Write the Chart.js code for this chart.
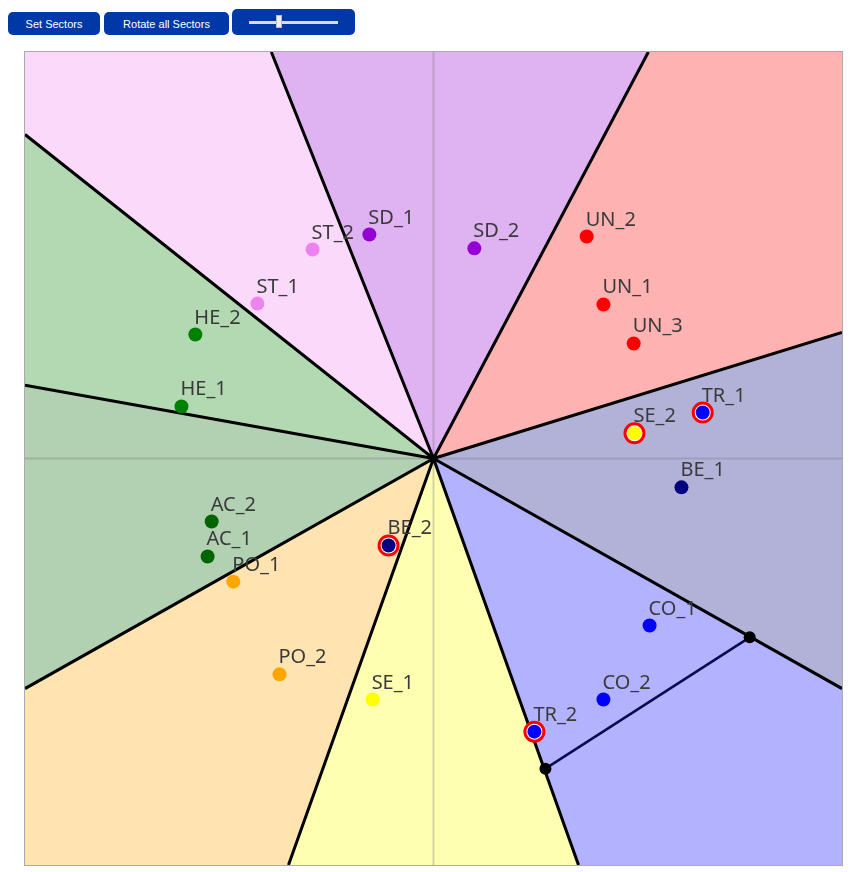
<!DOCTYPE html>
<html lang="en">
<head>
  <meta charset="UTF-8">
  <title>Sectors</title>
  <script src="https://cdn.jsdelivr.net/npm/chart.js"></script>
  <style>
    body {
      margin: 0;
      background: #fff;
      font-family: 'Liberation Sans', Arial, sans-serif;
    }
    .btn {
      position: absolute;
      background: #0038a8;
      color: #fff;
      border-radius: 5px;
      font-size: 11px;
      display: flex;
      align-items: center;
      justify-content: center;
    }
    .track {
      position: absolute;
      left: 17px; right: 17px; top: 12px;
      height: 3px;
      background: #ddd;
    }
    .thumb {
      position: absolute;
      left: 44px; top: 6px;
      width: 6px; height: 13px;
      background: #eee;
      border: 1px solid #bbb;
      box-sizing: border-box;
    }
    #plot {
      position: absolute;
      left: 24px;
      top: 51px;
      width: 817px;
      height: 813px;
      border: 1px solid #aaa;
    }
  </style>
</head>
<body>

  <div class="btn" style="left:8px; top:12px; width:92px; height:23px;">Set Sectors</div>
  <div class="btn" style="left:104px; top:12px; width:125px; height:23px;">Rotate all Sectors</div>
  <div class="btn" style="left:232px; top:9px; width:123px; height:26px;">
    <div class="track"></div>
    <div class="thumb"></div>
  </div>

  <div id="plot">
    <canvas id="sectorChart" width="817" height="813"></canvas>
  </div>

  <script>
    // Points
    const pointNames = ['SD_1', 'SD_2', 'ST_2', 'ST_1', 'HE_2', 'HE_1', 'UN_2', 'UN_1', 'UN_3', 'TR_1', 'SE_2',
                        'BE_1', 'CO_1', 'CO_2', 'TR_2', 'AC_2', 'AC_1', 'PO_1', 'BE_2', 'PO_2', 'SE_1'];
    const pointX = [-0.157, 0.100, -0.296, -0.431, -0.583, -0.617, 0.375, 0.416, 0.490, 0.659, 0.492,
                    0.607, 0.529, 0.416, 0.247, -0.543, -0.553, -0.490, -0.110, -0.377, -0.149];
    const pointY = [0.551, 0.517, 0.514, 0.381, 0.305, 0.128, 0.546, 0.379, 0.283, 0.113, 0.062,
                    -0.071, -0.411, -0.593, -0.672, -0.155, -0.241, -0.303, -0.214, -0.531, -0.593];
    const selected = ['TR_1', 'SE_2', 'BE_2', 'TR_2'];

    // Sectors, clockwise from the top; boundary i is the line from the centre to (boundX[i], boundY[i])
    const sectorNames = ['SD', 'UN', 'BE', 'CO', 'SE', 'PO', 'AC', 'HE', 'ST'];
    const boundX = [-0.397, 0.526, 1, 1, 0.355, -0.355, -1, -1, -1];
    const boundY = [1, 1, 0.31, -0.566, -1, -1, -0.566, 0.18, 0.797];

    // Handle line
    const handleX = [0.774, 0.274];
    const handleY = [-0.440, -0.763];

    const groupColor = {
      SD: '148,0,211', UN: '255,0,0', BE: '0,0,128', CO: '0,0,255', TR: '0,0,255',
      SE: '255,255,0', PO: '255,165,0', AC: '0,100,0', HE: '0,128,0', ST: '238,130,238'
    };

    // position along the square's border, clockwise from the top-left corner
    const perim = (x, y) => {
      if (y === 1) return x + 1;
      if (x === 1) return 2 + (1 - y);
      if (y === -1) return 4 + (1 - x);
      return 6 + (y + 1);
    };
    const corners = [[-1, 1, 0], [1, 1, 2], [1, -1, 4], [-1, -1, 6]];

    const datasets = [];

    sectorNames.forEach((name, i) => {
      const j = (i + 1) % sectorNames.length;
      let t0 = perim(boundX[i], boundY[i]);
      let t1 = perim(boundX[j], boundY[j]);
      if (t1 <= t0) t1 += 8;
      const pts = [{x: 0, y: 0}, {x: boundX[i], y: boundY[i]}];
      [0, 8].forEach(off => corners.forEach(c => {
        const t = c[2] + off;
        if (t > t0 && t < t1) pts.push({x: c[0], y: c[1]});
      }));
      pts.push({x: boundX[j], y: boundY[j]}, {x: 0, y: 0});
      datasets.push({
        data: pts, showLine: true, fill: 'shape', borderWidth: 0, pointRadius: 0,
        borderColor: 'rgba(0,0,0,0)', backgroundColor: 'rgba(' + groupColor[name] + ',0.3)', order: 50
      });
    });

    // axes through the centre
    datasets.push({
      data: [{x: -1, y: 0}, {x: 1, y: 0}], showLine: true, fill: false, pointRadius: 0,
      borderColor: 'rgba(110,110,110,0.3)', borderWidth: 2, order: 40
    });
    datasets.push({
      data: [{x: 0, y: -1}, {x: 0, y: 1}], showLine: true, fill: false, pointRadius: 0,
      borderColor: 'rgba(110,110,110,0.3)', borderWidth: 2, order: 40
    });

    // sector boundaries
    const star = [];
    boundX.forEach((bx, i) => star.push({x: 0, y: 0}, {x: bx, y: boundY[i]}));
    datasets.push({
      data: star, showLine: true, fill: false, pointRadius: 0,
      borderColor: '#000', borderWidth: 3, order: 30
    });

    // handle
    datasets.push({
      data: handleX.map((x, i) => ({x: x, y: handleY[i]})), showLine: true, fill: false,
      borderColor: '#0a0a50', borderWidth: 2.5, pointRadius: 6, pointBorderWidth: 0,
      pointBackgroundColor: '#000', order: 20
    });

    // red rings
    datasets.push({
      data: selected.map(n => ({x: pointX[pointNames.indexOf(n)], y: pointY[pointNames.indexOf(n)]})),
      showLine: false, pointRadius: 9.5, pointBorderWidth: 3, pointBorderColor: '#ff0000',
      pointBackgroundColor: '#fff', order: 10
    });

    // points
    const pointsIndex = datasets.length;
    datasets.push({
      data: pointX.map((x, i) => ({x: x, y: pointY[i]})), showLine: false,
      pointRadius: 7, pointBorderWidth: 0,
      pointBackgroundColor: pointNames.map(n => 'rgb(' + groupColor[n.slice(0, 2)] + ')'),
      order: 5
    });

    const labelPlugin = {
      id: 'pointLabels',
      afterDatasetsDraw(chart) {
        const ctx = chart.ctx;
        const meta = chart.getDatasetMeta(pointsIndex);
        ctx.save();
        ctx.font = '20px "Noto Sans"';
        ctx.fillStyle = '#3a3a3a';
        ctx.textBaseline = 'alphabetic';
        meta.data.forEach((el, i) => ctx.fillText(pointNames[i], el.x - 1, el.y - 11));
        ctx.restore();
      }
    };

    new Chart(document.getElementById('sectorChart'), {
      type: 'line',
      data: { datasets: datasets },
      options: {
        responsive: false,
        animation: false,
        devicePixelRatio: 1,
        layout: { padding: 0, autoPadding: false },
        scales: {
          x: { type: 'linear', min: -1, max: 1, display: false },
          y: { type: 'linear', min: -1, max: 1, display: false }
        },
        plugins: {
          legend: { display: false },
          tooltip: { enabled: false }
        }
      },
      plugins: [labelPlugin]
    });
  </script>

</body>
</html>
